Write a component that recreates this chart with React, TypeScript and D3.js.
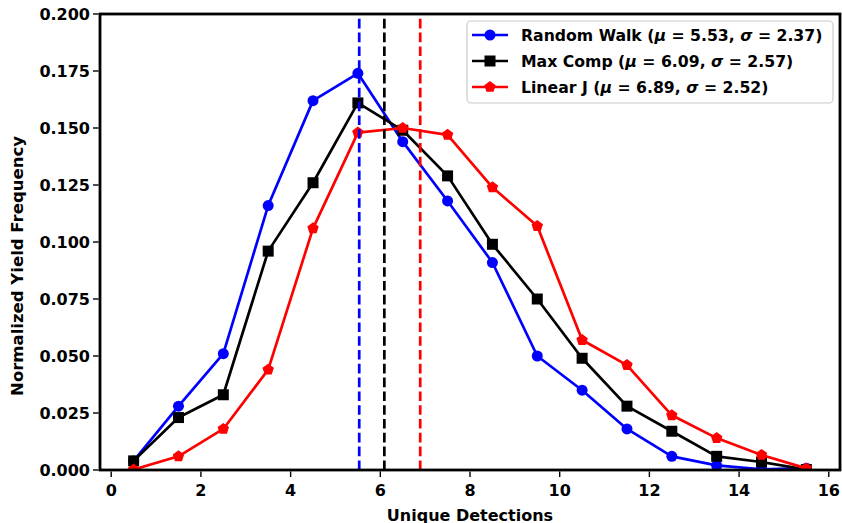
import React from "react";
import * as d3 from "d3";

const bins = [0.5, 1.5, 2.5, 3.5, 4.5, 5.5, 6.5, 7.5, 8.5, 9.5, 10.5, 11.5, 12.5, 13.5, 14.5, 15.5];
const randomWalk = [0.004, 0.028, 0.051, 0.116, 0.162, 0.174, 0.144, 0.118, 0.091, 0.050, 0.035, 0.018, 0.006, 0.002, 0.0003, 0.0008];
const maxComp = [0.004, 0.023, 0.033, 0.096, 0.126, 0.161, 0.149, 0.129, 0.099, 0.075, 0.049, 0.028, 0.017, 0.006, 0.0035, 0.0002];
const linearJ = [0.0002, 0.006, 0.018, 0.044, 0.106, 0.148, 0.150, 0.147, 0.124, 0.107, 0.057, 0.046, 0.024, 0.014, 0.0066, 0.0007];
const seriesNames = ["Random Walk", "Max Comp", "Linear J"];
const means = [5.53, 6.09, 6.89];
const sigmas = [2.37, 2.57, 2.52];
const colors = ["#0000ff", "#000000", "#ff0000"];
const markers = ["circle", "square", "pentagon"];
const xTicks = [0, 2, 4, 6, 8, 10, 12, 14, 16];
const yTicks = [0, 0.025, 0.05, 0.075, 0.1, 0.125, 0.15, 0.175, 0.2];

const W = 842;
const H = 523;
const L = 100, R = 840, T = 14, B = 470;
const FONT = "'DejaVu Sans', sans-serif";

function markerPath(kind: string, size: number): string {
  if (kind === "circle") {
    return d3.symbol(d3.symbolCircle, Math.PI * (size / 2) ** 2)()!;
  }
  if (kind === "square") {
    return d3.symbol(d3.symbolSquare, size * size)()!;
  }
  const r = size / 2;
  const pts: [number, number][] = [];
  for (let i = 0; i < 5; i++) {
    const a = -Math.PI / 2 + (i * 2 * Math.PI) / 5;
    pts.push([r * Math.cos(a), r * Math.sin(a)]);
  }
  return "M" + pts.map((p) => p.join(",")).join("L") + "Z";
}

export default function App() {
  const x = d3.scaleLinear().domain([-0.25, 16.25]).range([L, R]);
  const y = d3.scaleLinear().domain([0, 0.2]).range([B, T]);
  const allSeries = [randomWalk, maxComp, linearJ];
  const line = d3
    .line<number>()
    .x((_, i) => x(bins[i]))
    .y((d) => y(d));
  const markerSizes = [11, 11, 12];

  const legX = 467, legY = 21, legW = 366, legH = 82;

  return (
    <svg width={W} height={H} style={{ position: "absolute", left: 0, top: 0 }} fontFamily={FONT}>
      <rect x={0} y={0} width={W} height={H} fill="white" />
      <defs>
        <clipPath id="plotclip">
          <rect x={L} y={T} width={R - L} height={B - T} />
        </clipPath>
      </defs>
      <g clipPath="url(#plotclip)">
        {allSeries.map((s, k) => (
          <g key={k}>
            <path d={line(s)!} fill="none" stroke={colors[k]} strokeWidth={2.7} strokeLinejoin="round" />
            {s.map((v, i) => (
              <path
                key={i}
                d={markerPath(markers[k], markerSizes[k])}
                transform={`translate(${x(bins[i])},${y(v)})`}
                fill={colors[k]}
              />
            ))}
          </g>
        ))}
        {means.map((m, k) => (
          <line
            key={k}
            x1={x(m)}
            x2={x(m)}
            y1={B}
            y2={T}
            stroke={colors[k]}
            strokeWidth={2.7}
            strokeDasharray="9.6,4.2"
          />
        ))}
      </g>
      {/* spines */}
      <rect x={L} y={T} width={R - L} height={B - T} fill="none" stroke="black" strokeWidth={2.8} />
      {/* x ticks */}
      {xTicks.map((t) => (
        <g key={t} transform={`translate(${x(t)},${B})`}>
          <line y1={1.4} y2={7} stroke="black" strokeWidth={1.4} />
          <text y={25.5} textAnchor="middle" fontWeight="bold" fontSize={16}>
            {t}
          </text>
        </g>
      ))}
      {yTicks.map((t) => (
        <g key={t} transform={`translate(${L},${y(t)})`}>
          <line x1={-1.4} x2={-7} stroke="black" strokeWidth={1.4} />
          <text x={-10} dy="0.36em" textAnchor="end" fontWeight="bold" fontSize={16}>
            {t.toFixed(3)}
          </text>
        </g>
      ))}
      <text x={(L + R) / 2} y={520.5} textAnchor="middle" fontWeight="bold" fontSize={16}>
        Unique Detections
      </text>
      <text
        transform={`translate(23,266) rotate(-90)`}
        textAnchor="middle"
        fontWeight="bold"
        fontSize={16.5}
      >
        Normalized Yield Frequency
      </text>
      {/* legend */}
      <rect x={legX} y={legY} width={legW} height={legH} rx={4} fill="white" fillOpacity={0.85} stroke="#cccccc" strokeWidth={1.2} />
      {seriesNames.map((name, k) => {
        const ry = 35 + k * 26;
        return (
          <g key={k}>
            <line x1={472} x2={508} y1={ry} y2={ry} stroke={colors[k]} strokeWidth={2.7} />
            <path d={markerPath(markers[k], markerSizes[k])} transform={`translate(490,${ry})`} fill={colors[k]} />
            <text x={521} y={ry} dy="0.36em" fontWeight="bold" fontSize={15.7}>
              {name} (<tspan fontStyle="italic">μ</tspan> = {means[k].toFixed(2)}, <tspan fontStyle="italic">σ</tspan> = {sigmas[k].toFixed(2)})
            </text>
          </g>
        );
      })}
    </svg>
  );
}
